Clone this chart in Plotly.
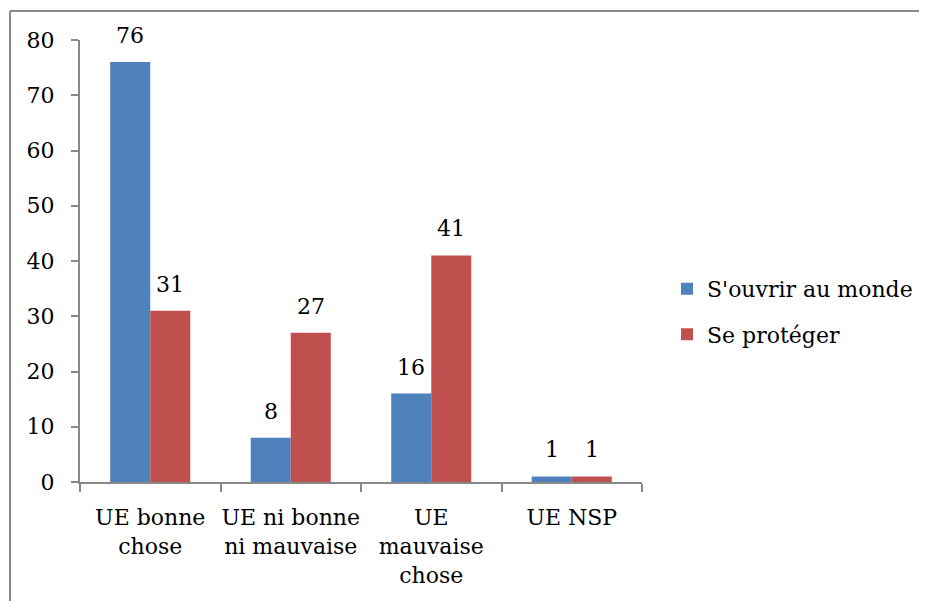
import plotly.graph_objects as go

categories = ["UE bonne<br>chose", "UE ni bonne<br>ni mauvaise", "UE<br>mauvaise<br>chose", "UE NSP"]
series_names = ["S'ouvrir au monde", "Se protéger"]
ouvrir = [76, 8, 16, 1]
proteger = [31, 27, 41, 1]
y_ticks = [0, 10, 20, 30, 40, 50, 60, 70, 80]

colors = ["#4F81BD", "#C0504D"]
FONT = "DejaVu Serif"
FS = 22

fig = go.Figure()
for i, (name, vals, col) in enumerate(zip(series_names, [ouvrir, proteger], colors)):
    fig.add_trace(go.Bar(x=categories, y=vals, name=name, legendgroup=f"g{i}",
                         marker=dict(color=col, line=dict(width=0))))

# data labels
for vals, shift in [(ouvrir, -20), (proteger, 20)]:
    for c, v in zip(categories, vals):
        fig.add_annotation(x=c, y=v, text=str(v), showarrow=False, xshift=shift,
                           yanchor="bottom", yshift=12, font=dict(family=FONT, size=FS, color="black"))

OFF = 8  # page body margin
L, R, T, B = 80 - OFF, 285 + OFF, 40 - OFF, 119 + OFF
W, H = 927, 601
pw, ph = W - L - R, H - T - B
fx0 = (10 - OFF - L) / pw
fx1 = (W - L) / pw
fy1 = 1 + (T - (11 - OFF)) / ph
fy0 = -(B) / ph
fig.add_shape(type="line", xref="paper", yref="paper", x0=fx0, x1=fx0, y0=fy0, y1=fy1,
              line=dict(color="#888888", width=2))
fig.add_shape(type="line", xref="paper", yref="paper", x0=fx0, x1=fx1, y0=fy1, y1=fy1,
              line=dict(color="#888888", width=2))

fig.update_layout(
    width=W, height=H,
    margin=dict(l=L, r=R, t=T, b=B, autoexpand=False),
    paper_bgcolor="white", plot_bgcolor="white",
    barmode="group", bargap=0.43, bargroupgap=0,
    font=dict(family=FONT, size=FS, color="black"),
    showlegend=True,
    legend=dict(x=1.0445, xanchor="left", y=0.385, yanchor="middle", xref="paper",
                font=dict(family=FONT, size=FS), tracegroupgap=14, itemwidth=30,
                traceorder="grouped", bgcolor="rgba(0,0,0,0)"),
    xaxis=dict(showline=True, linecolor="#888888", linewidth=2, ticks="outside",
               tickson="boundaries", ticklen=8, tickcolor="#888888", tickwidth=2,
               tickfont=dict(family=FONT, size=FS), showgrid=False, ticklabelstandoff=15,
               tickangle=0, automargin=False),
    yaxis=dict(range=[0, 80], tickvals=y_ticks, showline=True, linecolor="#888888", linewidth=2,
               ticks="outside", ticklen=7, tickcolor="#888888", tickwidth=2,
               tickfont=dict(family=FONT, size=FS), showgrid=False, zeroline=False,
               ticklabelstandoff=12, automargin=False),
)

fig.write_html("out.html")
